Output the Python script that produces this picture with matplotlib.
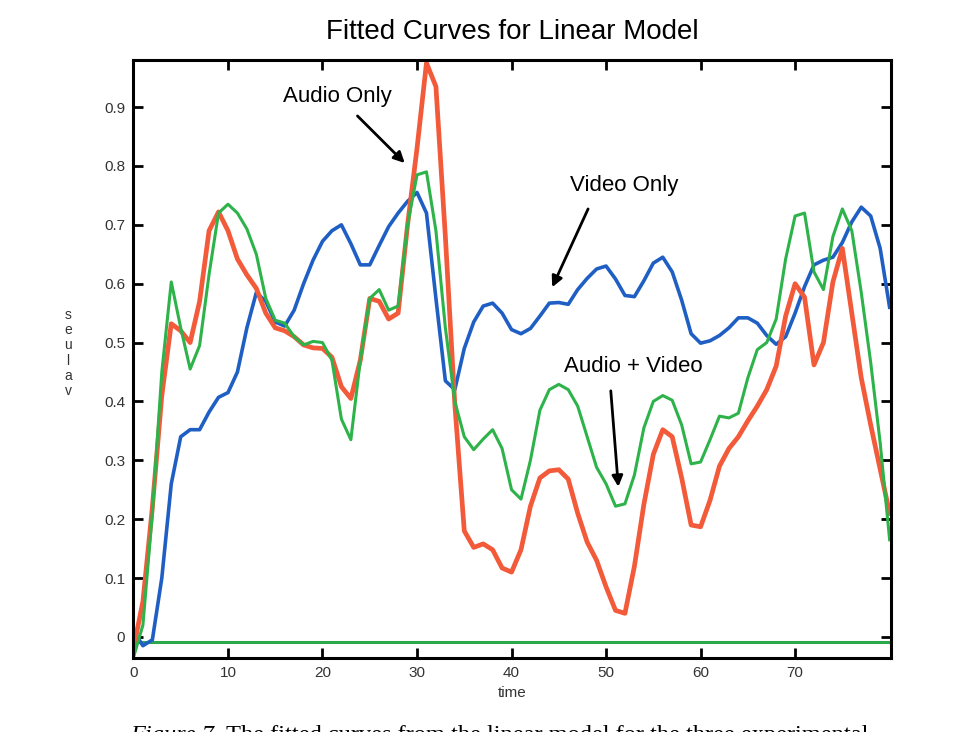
import numpy as np
import matplotlib.pyplot as plt

# time axis (one sample per unit)
time = np.arange(0, 81)

# Video Only (blue)
video_only = [0.01, -0.015, -0.005, 0.10, 0.26, 0.34, 0.352, 0.352, 0.382, 0.407,
              0.415, 0.45, 0.525, 0.585, 0.57, 0.535, 0.528, 0.555, 0.60, 0.64,
              0.672, 0.69, 0.70, 0.668, 0.632, 0.632, 0.665, 0.697, 0.72, 0.74,
              0.755, 0.72, 0.575, 0.435, 0.42, 0.49, 0.535, 0.562, 0.567, 0.55,
              0.522, 0.515, 0.524, 0.545, 0.567, 0.568, 0.565, 0.59, 0.609, 0.625,
              0.63, 0.608, 0.58, 0.578, 0.605, 0.635, 0.645, 0.62, 0.572, 0.515,
              0.499, 0.503, 0.512, 0.525, 0.542, 0.542, 0.533, 0.512, 0.497, 0.51,
              0.55, 0.595, 0.632, 0.64, 0.645, 0.67, 0.705, 0.73, 0.715, 0.66,
              0.56]

# Audio + Video (green)
audio_video = [-0.035, 0.02, 0.21, 0.45, 0.603, 0.525, 0.455, 0.495, 0.616, 0.72,
               0.735, 0.72, 0.693, 0.65, 0.575, 0.538, 0.533, 0.51, 0.496, 0.502,
               0.50, 0.47, 0.37, 0.335, 0.47, 0.575, 0.59, 0.555, 0.562, 0.70,
               0.785, 0.79, 0.69, 0.525, 0.40, 0.34, 0.318, 0.336, 0.352, 0.32,
               0.25, 0.234, 0.30, 0.385, 0.42, 0.429, 0.42, 0.392, 0.34, 0.288,
               0.26, 0.222, 0.226, 0.275, 0.355, 0.40, 0.41, 0.402, 0.36, 0.294,
               0.297, 0.335, 0.375, 0.372, 0.38, 0.44, 0.488, 0.50, 0.54, 0.642,
               0.715, 0.72, 0.62, 0.59, 0.68, 0.727, 0.69, 0.585, 0.466, 0.33,
               0.165]

# Audio Only (red)
audio_only = [-0.02, 0.06, 0.22, 0.41, 0.532, 0.52, 0.50, 0.57, 0.69, 0.722,
              0.69, 0.642, 0.615, 0.592, 0.55, 0.525, 0.52, 0.51, 0.496, 0.491,
              0.49, 0.475, 0.425, 0.405, 0.47, 0.575, 0.57, 0.54, 0.55, 0.70,
              0.83, 0.975, 0.935, 0.68, 0.395, 0.18, 0.152, 0.158, 0.148, 0.117,
              0.11, 0.148, 0.222, 0.27, 0.282, 0.284, 0.268, 0.21, 0.161, 0.13,
              0.085, 0.045, 0.04, 0.12, 0.225, 0.31, 0.352, 0.34, 0.27, 0.19,
              0.187, 0.232, 0.29, 0.32, 0.34, 0.367, 0.392, 0.42, 0.46, 0.545,
              0.60, 0.577, 0.462, 0.50, 0.603, 0.66, 0.55, 0.44, 0.36, 0.285,
              0.21]

# flat green line near zero
base_t = [0.6, 80.2]
base_v = [-0.008, -0.008]

ytick_vals = [0, 0.1, 0.2, 0.3, 0.4, 0.5, 0.6, 0.7, 0.8, 0.9]
ytick_labels = ['0', '0.1', '0.2', '0.3', '0.4', '0.5', '0.6', '0.7', '0.8', '0.9']
xtick_vals = [0, 10, 20, 30, 40, 50, 60, 70]

plt.rcParams['font.family'] = ['Liberation Sans', 'DejaVu Sans']

fig = plt.figure(figsize=(9.72, 7.32), dpi=100)
ax = fig.add_axes([0.1373, 0.101, 0.9167 - 0.1373, 0.918 - 0.101])

ax.plot(base_t, base_v, color='#2aa84a', lw=2.2)
ax.plot(time, video_only, color='#1f5fc4', lw=2.6)
ax.plot(time, audio_only, color='#f25a3a', lw=3.4)
ax.plot(time, audio_video, color='#2db34a', lw=2.2)

ax.set_xlim(0, 80.15)
ax.set_ylim(-0.036, 0.98)
ax.set_xticks(xtick_vals)
ax.set_yticks(ytick_vals)
ax.set_yticklabels(ytick_labels)
ax.tick_params(direction='in', length=7, width=2, top=True, right=True,
               labelsize=11, labelcolor='#333333')
ax.tick_params(axis='y', pad=6)
ax.tick_params(axis='x', pad=6)
for s in ax.spines.values():
    s.set_linewidth(2.2)

ax.set_xlabel('time', fontsize=11, color='#333333', labelpad=4)
fig.text(68 / 972, 1 - 353 / 732, 's\ne\nu\nl\na\nv', fontsize=10, color='#333333',
         ha='center', va='center', linespacing=1.1)

fig.text(512 / 972, 1 - 32 / 732, 'Fitted Curves for Linear Model', fontsize=20,
         ha='center', va='center')

arrow = dict(arrowstyle='-|>', color='black', lw=2, mutation_scale=16, shrinkA=0, shrinkB=0)
ax.annotate('Audio Only', xy=(28.7, 0.805), xytext=(21.6, 0.918), fontsize=16,
            ha='center', va='center')
ax.annotate('', xy=(28.7, 0.805), xytext=(23.7, 0.885), arrowprops=arrow)
ax.annotate('Video Only', xy=(44.3, 0.594), xytext=(51.9, 0.766), fontsize=16,
            ha='center', va='center')
ax.annotate('', xy=(44.3, 0.594), xytext=(48.1, 0.727), arrowprops=arrow)
ax.annotate('Audio + Video', xy=(51.3, 0.255), xytext=(52.9, 0.459), fontsize=16,
            ha='center', va='center')
ax.annotate('', xy=(51.3, 0.255), xytext=(50.5, 0.418), arrowprops=arrow)

# caption of the page, cut at the bottom edge
cap1 = fig.text(130 / 972, 1 - 741 / 732, 'Figure 7.', fontsize=17.6,
                family='Liberation Serif', style='italic', va='baseline', ha='left')
fig.canvas.draw()
bb = cap1.get_window_extent()
fig.text((bb.x1 + 6) / 972, 1 - 741 / 732,
         'The fitted curves from the linear model for the three experimental',
         fontsize=17.6, family='Liberation Serif', va='baseline', ha='left')

fig.savefig('out.png', dpi=100, facecolor='white')
